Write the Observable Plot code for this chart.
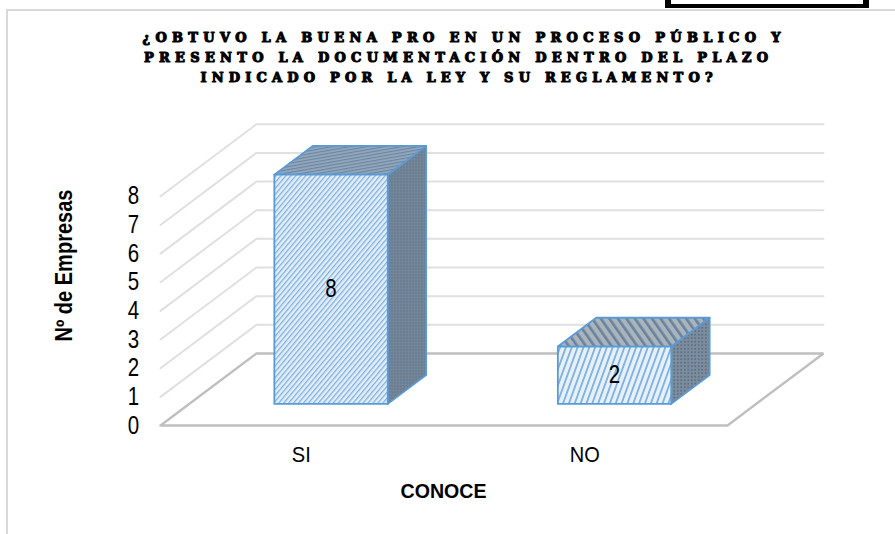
<!DOCTYPE html>
<html><head><meta charset="utf-8">
<script src="https://cdn.jsdelivr.net/npm/d3@7"></script>
<script src="https://cdn.jsdelivr.net/npm/@observablehq/plot@0.6"></script>
<style>
html,body{margin:0;padding:0;background:#fff;overflow:hidden}
#wrap{position:relative;width:895px;height:534px}
#wrap svg{position:absolute;left:0;top:0;background:transparent}
.frameL{position:absolute;left:6px;top:9px;width:2px;height:525px;background:#d9d9d9}
.frameT{position:absolute;left:6px;top:9px;width:889px;height:2px;background:#d9d9d9}
.box{position:absolute;left:665px;top:-6px;width:192px;height:10px;border:6px solid #000;border-top:0;border-bottom-width:4px}
</style></head><body>
<div id="wrap"><div class="frameL"></div><div class="frameT"></div><div class="box"></div></div>
<script>
const categories = ["SI", "NO"];
const values = [8, 2];
const yTicks = [0, 1, 2, 3, 4, 5, 6, 7, 8];
const titleLines = [
  "¿OBTUVO LA BUENA PRO EN UN PROCESO PÚBLICO Y",
  "PRESENTO LA DOCUMENTACIÓN DENTRO DEL PLAZO",
  "INDICADO POR LA LEY Y SU REGLAMENTO?"
];
const yTitle = "Nº de Empresas";
const xTitle = "CONOCE";

// oblique depth: how far one full unit of depth moves a point, in data units
const depthX = 0.3386, depthY = 2.515;
const barHalf = 0.2, depthNear = 0.3, depthFar = 0.7;
const P = (u, v, d) => ({x: u + d * depthX, y: v + d * depthY});
const cx = i => i + 0.5;

const wall = yTicks.slice(1).map(v => ({v, pts: [P(0, v, 0), P(0, v, 1), P(2, v, 1)]}));
const floor = [P(0, 0, 0), P(0, 0, 1), P(2, 0, 1), P(2, 0, 0), P(0, 0, 0)];

function faces(i) {
  const a = cx(i) - barHalf, b = cx(i) + barHalf, h = values[i];
  return {
    front: [P(a, 0, depthNear), P(b, 0, depthNear), P(b, h, depthNear), P(a, h, depthNear), P(a, 0, depthNear)],
    side:  [P(b, 0, depthNear), P(b, 0, depthFar), P(b, h, depthFar), P(b, h, depthNear), P(b, 0, depthNear)],
    top:   [P(a, h, depthNear), P(b, h, depthNear), P(b, h, depthFar), P(a, h, depthFar), P(a, h, depthNear)]
  };
}

const ns = "http://www.w3.org/2000/svg";
function stripes(id, w, sw, angle, bg, fg) {
  return `<pattern id="${id}" width="${w}" height="${w}" patternUnits="userSpaceOnUse" patternTransform="rotate(${angle})">
    <rect width="${w}" height="${w}" fill="${bg}"/><rect width="${sw}" height="${w}" fill="${fg}"/></pattern>`;
}
function dots(id, w, r, bg, fg) {
  return `<pattern id="${id}" width="${w}" height="${w}" patternUnits="userSpaceOnUse">
    <rect width="${w}" height="${w}" fill="${bg}"/><circle cx="${w/2}" cy="${w/2}" r="${r}" fill="${fg}"/></pattern>`;
}
const defsMark = () => {
  const g = document.createElementNS(ns, "defs");
  g.innerHTML =
    stripes("f0", 3.8, 1.3, 40, "#e3eef9", "#7fb1e0") +
    stripes("f1", 5.5, 1.8, 20, "#e6f0fa", "#7fb1e0") +
    stripes("t0", 3, 1.2, 80, "#98a7b6", "#6488ab") +
    stripes("t1", 7, 2.6, -35, "#abb3bb", "#66839f") +
    dots("s0", 3, 0.9, "#7a8a9a", "#556f8c") +
    dots("s1", 3.5, 1.0, "#7f8d9b", "#556f8c");
  return g;
};

const font = "'Liberation Sans',sans-serif";
const barMarks = categories.flatMap((c, i) => {
  const f = faces(i);
  const st = {x: "x", y: "y", stroke: "#5b9bd5", strokeWidth: 1.8, strokeLinejoin: "round"};
  return [
    Plot.line(f.side, {...st, fill: `url(#s${i})`}),
    Plot.line(f.top, {...st, fill: `url(#t${i})`}),
    Plot.line(f.front, {...st, fill: `url(#f${i})`})
  ];
});

const plot = Plot.plot({
  width: 895, height: 534,
  marginLeft: 0, marginRight: 0, marginTop: 0, marginBottom: 0,
  style: {background: "transparent"},
  x: {domain: [0, 2], range: [160, 727], axis: null},
  y: {domain: [0, 8], range: [425, 195.8], axis: null},
  marks: [
    defsMark,
    ...wall.map(w => Plot.line(w.pts, {x: "x", y: "y", stroke: "#e0e0e0", strokeWidth: 2})),
    Plot.line(floor, {x: "x", y: "y", stroke: "#bfbfbf", strokeWidth: 2.4, strokeLinejoin: "miter"}),
    ...barMarks,
    Plot.text(yTicks, {x: () => 0, y: d => d, text: d => String(d), dx: -27, fontSize: 25, fontFamily: font, fill: "#000"}),
    Plot.text(categories, {x: (d, i) => cx(i), y: () => 0, text: d => d, dx: -1, dy: 29, fontSize: 22, fontFamily: font, fill: "#000"}),
    Plot.text(categories, {
      x: (d, i) => P(cx(i), values[i] / 2, depthNear).x,
      y: (d, i) => P(cx(i), values[i] / 2, depthNear).y,
      text: (d, i) => String(values[i]), fontSize: 25, fontFamily: font, fill: "#000"
    }),
    Plot.text([yTitle], {frameAnchor: "top-left", textAnchor: "middle", lineAnchor: "middle", dx: 64, dy: 265, rotate: -90, text: d => d, fontSize: 23, fontWeight: "bold", fontFamily: font, fill: "#000"}),
    Plot.text([xTitle], {frameAnchor: "top-left", textAnchor: "middle", lineAnchor: "middle", dx: 443, dy: 491, text: d => d, fontSize: 21, fontWeight: "bold", fontFamily: font, fill: "#000"}),
    ...titleLines.map((t, i) => Plot.text([t], {
      frameAnchor: "top-left", textAnchor: "middle", lineAnchor: "middle",
      dx: [461, 455.5, 456][i], dy: [37.5, 57, 77.5][i],
      text: d => d, fontSize: 13, fontWeight: "bold",
      fontFamily: "'DejaVu Serif',serif", fill: "#000", stroke: "#000", strokeWidth: 1.1
    }))
  ]
});
document.getElementById("wrap").appendChild(plot);

// the reference's narrow face and tracked title: fit each text to its measured width
const fit = {
  "SI": 19, "NO": 30, [xTitle]: 86, [yTitle]: 152,
  [titleLines[0]]: 638, [titleLines[1]]: 624, [titleLines[2]]: 512
};
plot.querySelectorAll("text").forEach(t => {
  const s = t.textContent;
  if (titleLines.includes(s)) {
    t.setAttribute("textLength", fit[s]);
    t.setAttribute("lengthAdjust", "spacing");
  } else if (fit[s]) {
    t.setAttribute("textLength", fit[s]);
    t.setAttribute("lengthAdjust", "spacingAndGlyphs");
  } else {
    t.setAttribute("textLength", (t.getComputedTextLength() * 0.82).toFixed(1));
    t.setAttribute("lengthAdjust", "spacingAndGlyphs");
  }
});
</script></body></html>
